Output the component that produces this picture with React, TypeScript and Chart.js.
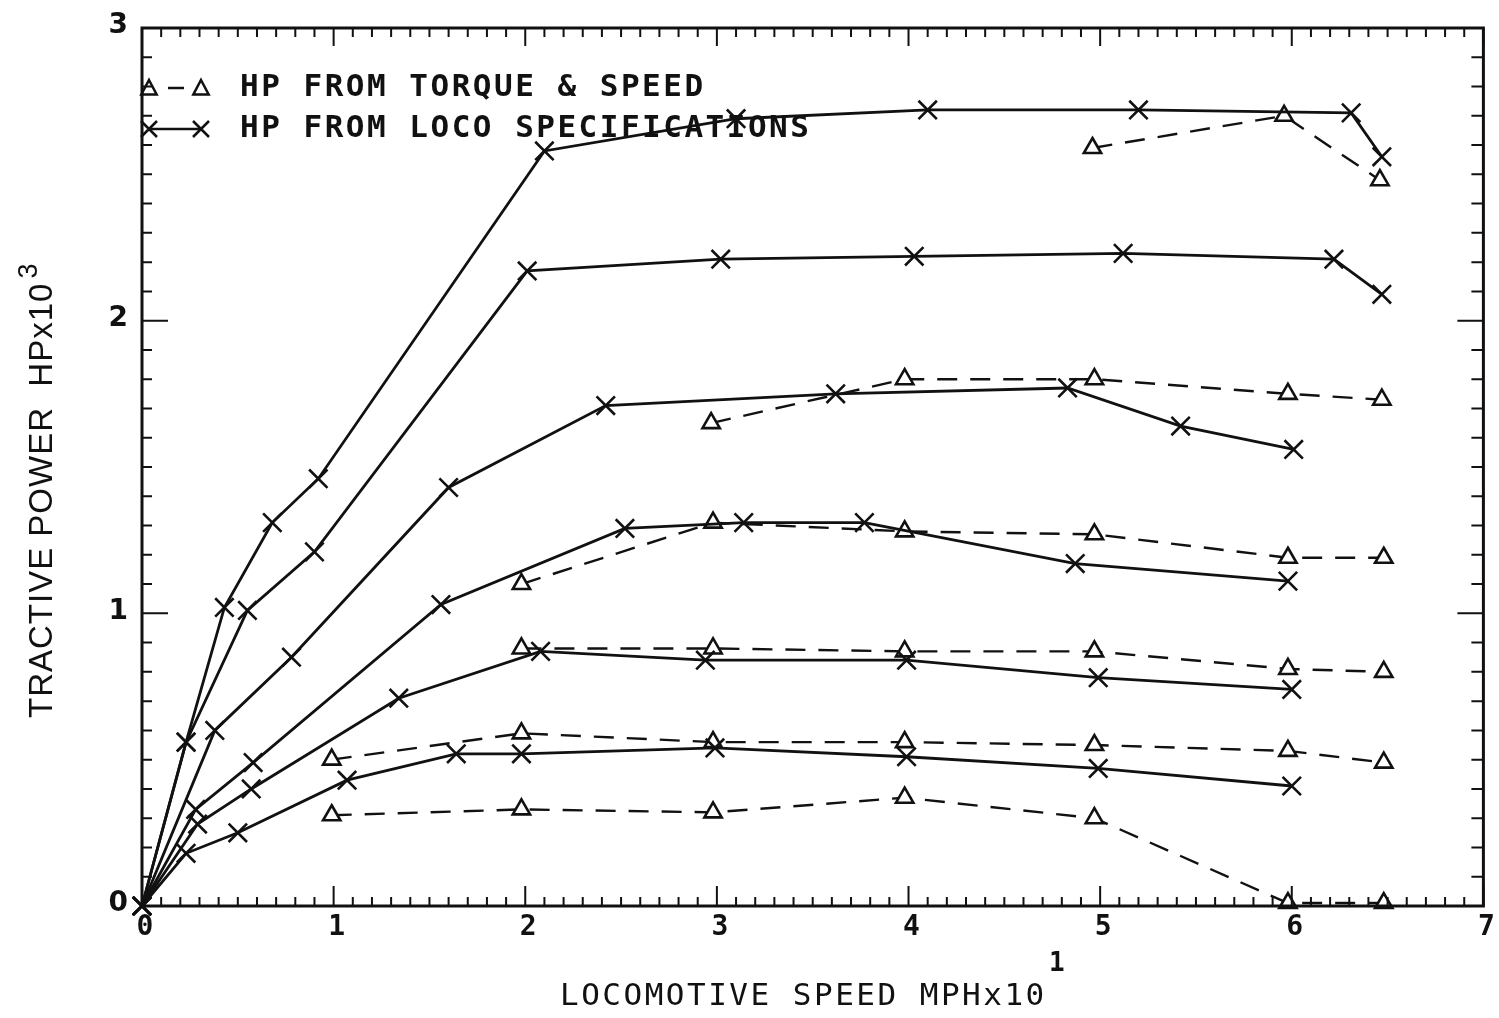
import React, { useEffect, useRef } from "react";
import { Chart, registerables } from "chart.js";

Chart.register(...registerables);

// ---------- axis ticks ----------
const X_TICKS = [0, 1, 2, 3, 4, 5, 6, 7];
const Y_TICKS = [0, 1, 2, 3];

// ---------- HP from loco specifications (solid, x markers) ----------
const spec1X = [0, 0.23, 0.43, 0.68, 0.92, 2.1, 3.1, 4.1, 5.2, 6.31, 6.47];
const spec1Y = [0, 0.56, 1.02, 1.31, 1.46, 2.58, 2.69, 2.72, 2.72, 2.71, 2.56];

const spec2X = [0, 0.23, 0.55, 0.9, 2.01, 3.02, 4.03, 5.12, 6.22, 6.47];
const spec2Y = [0, 0.56, 1.01, 1.21, 2.17, 2.21, 2.22, 2.23, 2.21, 2.09];

const spec3X = [0, 0.38, 0.78, 1.6, 2.42, 3.62, 4.83, 5.42, 6.01];
const spec3Y = [0, 0.6, 0.85, 1.43, 1.71, 1.75, 1.77, 1.64, 1.56];

const spec4X = [0, 0.28, 0.58, 1.56, 2.52, 3.14, 3.77, 4.87, 5.98];
const spec4Y = [0, 0.33, 0.49, 1.03, 1.29, 1.31, 1.31, 1.17, 1.11];

const spec5X = [0, 0.29, 0.57, 1.34, 2.08, 2.94, 3.99, 4.99, 6.0];
const spec5Y = [0, 0.28, 0.4, 0.71, 0.87, 0.84, 0.84, 0.78, 0.74];

const spec6X = [0, 0.23, 0.5, 1.07, 1.64, 1.98, 2.99, 3.99, 4.99, 6.0];
const spec6Y = [0, 0.18, 0.25, 0.43, 0.52, 0.52, 0.54, 0.51, 0.47, 0.41];

// ---------- HP from torque & speed (dashed, triangles) ----------
const torq1X = [4.96, 5.96, 6.46];
const torq1Y = [2.59, 2.7, 2.48];

const torq2X = [2.97, 3.98, 4.97, 5.98, 6.47];
const torq2Y = [1.65, 1.8, 1.8, 1.75, 1.73];

const torq3X = [1.98, 2.98, 3.98, 4.97, 5.98, 6.48];
const torq3Y = [1.1, 1.31, 1.28, 1.27, 1.19, 1.19];

const torq4X = [1.98, 2.98, 3.98, 4.97, 5.98, 6.48];
const torq4Y = [0.88, 0.88, 0.87, 0.87, 0.81, 0.8];

const torq5X = [0.99, 1.98, 2.98, 3.98, 4.97, 5.98, 6.48];
const torq5Y = [0.5, 0.59, 0.56, 0.56, 0.55, 0.53, 0.49];

const torq6X = [0.99, 1.98, 2.98, 3.98, 4.97, 5.98, 6.48];
const torq6Y = [0.31, 0.33, 0.32, 0.37, 0.3, 0.01, 0.01];

// ---------- texts ----------
const LEGEND_TORQUE = "HP FROM TORQUE & SPEED";
const LEGEND_SPEC = "HP FROM LOCO SPECIFICATIONS";
const X_TITLE = "LOCOMOTIVE SPEED MPHx10";
const X_TITLE_SUP = "1";
const Y_TITLE = "TRACTIVE POWER  HPx10";
const Y_TITLE_SUP = "3";

const INK = "#111";

const toPts = (xs: number[], ys: number[]) => xs.map((x, i) => ({ x, y: ys[i] }));

const specSeries = [
  [spec1X, spec1Y],
  [spec2X, spec2Y],
  [spec3X, spec3Y],
  [spec4X, spec4Y],
  [spec5X, spec5Y],
  [spec6X, spec6Y],
];
const torqSeries = [
  [torq1X, torq1Y],
  [torq2X, torq2Y],
  [torq3X, torq3Y],
  [torq4X, torq4Y],
  [torq5X, torq5Y],
  [torq6X, torq6Y],
];

function drawCross(ctx: CanvasRenderingContext2D, x: number, y: number, r: number) {
  ctx.beginPath();
  ctx.moveTo(x - r, y - r);
  ctx.lineTo(x + r, y + r);
  ctx.moveTo(x - r, y + r);
  ctx.lineTo(x + r, y - r);
  ctx.stroke();
}
function drawTri(ctx: CanvasRenderingContext2D, x: number, y: number, r: number) {
  ctx.beginPath();
  ctx.moveTo(x, y - r);
  ctx.lineTo(x + r * 0.85, y + r * 0.6);
  ctx.lineTo(x - r * 0.85, y + r * 0.6);
  ctx.closePath();
  ctx.stroke();
}

const framePlugin = {
  id: "frame",
  afterDraw(chart: any) {
    const ctx: CanvasRenderingContext2D = chart.ctx;
    const xs = chart.scales.x;
    const ys = chart.scales.y;
    const { left, right, top, bottom } = chart.chartArea;
    ctx.save();
    ctx.strokeStyle = INK;
    ctx.fillStyle = INK;
    ctx.lineCap = "butt";

    // frame
    ctx.lineWidth = 3;
    ctx.strokeRect(left, top, right - left, bottom - top);

    // ticks on all four sides
    ctx.lineWidth = 2;
    for (let i = 0; i <= 70; i++) {
      const v = i / 10;
      const px = xs.getPixelForValue(v);
      const major = i % 10 === 0;
      const lb = major ? 20 : 9;
      const lt = major ? 18 : 9;
      ctx.beginPath();
      ctx.moveTo(px, bottom);
      ctx.lineTo(px, bottom - lb);
      ctx.moveTo(px, top);
      ctx.lineTo(px, top + lt);
      ctx.stroke();
    }
    for (let i = 0; i <= 30; i++) {
      const v = i / 10;
      const py = ys.getPixelForValue(v);
      const major = i % 10 === 0;
      const ll = major ? 26 : 10;
      const lr = major ? 26 : 12;
      ctx.beginPath();
      ctx.moveTo(left, py);
      ctx.lineTo(left + ll, py);
      ctx.moveTo(right, py);
      ctx.lineTo(right - lr, py);
      ctx.stroke();
    }

    // x tick labels
    ctx.font = "bold 28px 'DejaVu Sans Mono'";
    ctx.textAlign = "center";
    ctx.textBaseline = "middle";
    X_TICKS.forEach((t) => {
      ctx.fillText(String(t), xs.getPixelForValue(t) + 3, bottom + 22);
    });
    // y tick labels
    ctx.font = "bold 28px 'DejaVu Sans'";
    ctx.textAlign = "right";
    Y_TICKS.forEach((t) => {
      ctx.fillText(String(t), left - 14, ys.getPixelForValue(t) - 2);
    });

    // x title
    ctx.font = "31px 'DejaVu Sans Mono'";
    (ctx as any).letterSpacing = "2.5px";
    ctx.textAlign = "left";
    ctx.fillText(X_TITLE, 560, 997);
    (ctx as any).letterSpacing = "0px";
    ctx.font = "bold 26px 'DejaVu Sans Mono'";
    ctx.fillText(X_TITLE_SUP, 1049, 964);

    // y title
    ctx.save();
    ctx.translate(43, 718);
    ctx.rotate(-Math.PI / 2);
    ctx.font = "33px 'Liberation Sans'";
    (ctx as any).letterSpacing = "1px";
    ctx.textAlign = "left";
    ctx.textBaseline = "middle";
    ctx.fillText(Y_TITLE, 0, 0);
    const w = ctx.measureText(Y_TITLE).width;
    (ctx as any).letterSpacing = "0px";
    ctx.font = "27px 'Liberation Sans'";
    ctx.fillText(Y_TITLE_SUP, w + 4, -13);
    ctx.restore();

    // legend
    ctx.lineWidth = 2.5;
    const ly1 = 88;
    const ly2 = 129;
    drawTri(ctx, 149, ly1 + 1, 9);
    drawTri(ctx, 201, ly1 + 1, 9);
    ctx.beginPath();
    ctx.moveTo(168, ly1);
    ctx.lineTo(184, ly1);
    ctx.stroke();
    drawCross(ctx, 149, ly2, 8);
    drawCross(ctx, 201, ly2, 8);
    ctx.beginPath();
    ctx.moveTo(149, ly2);
    ctx.lineTo(201, ly2);
    ctx.stroke();

    ctx.font = "bold 31px 'DejaVu Sans Mono'";
    (ctx as any).letterSpacing = "2.5px";
    ctx.textAlign = "left";
    ctx.textBaseline = "middle";
    ctx.fillText(LEGEND_TORQUE, 240, ly1);
    ctx.fillText(LEGEND_SPEC, 240, ly2);
    (ctx as any).letterSpacing = "0px";

    ctx.restore();
  },
};

export default function App() {
  const ref = useRef<HTMLCanvasElement | null>(null);

  useEffect(() => {
    if (!ref.current) return;
    const datasets: any[] = [];
    specSeries.forEach(([xs, ys], i) => {
      datasets.push({
        label: "spec" + (i + 1),
        data: toPts(xs, ys),
        showLine: true,
        borderColor: INK,
        borderWidth: 2.8,
        pointStyle: "crossRot",
        pointRadius: 13,
        pointBorderWidth: 2.6,
        pointBorderColor: INK,
        pointBackgroundColor: INK,
        tension: 0,
        clip: false,
      });
    });
    torqSeries.forEach(([xs, ys], i) => {
      datasets.push({
        label: "torq" + (i + 1),
        data: toPts(xs, ys),
        showLine: true,
        borderColor: INK,
        borderWidth: 2.4,
        borderDash: [20, 13],
        pointStyle: "triangle",
        pointRadius: 10,
        pointBorderWidth: 2.6,
        pointBorderColor: INK,
        pointBackgroundColor: "#fff",
        tension: 0,
        clip: false,
      });
    });

    const chart = new Chart(ref.current, {
      type: "scatter",
      data: { datasets },
      options: {
        animation: false,
        responsive: false,
        devicePixelRatio: 1,
        layout: { padding: { left: 142, right: 15, top: 28, bottom: 112 } },
        plugins: { legend: { display: false }, tooltip: { enabled: false } },
        scales: {
          x: { type: "linear", min: 0, max: 7, display: false },
          y: { type: "linear", min: 0, max: 3, display: false },
        },
      },
      plugins: [framePlugin],
    });
    return () => chart.destroy();
  }, []);

  return (
    <div style={{ position: "fixed", left: 0, top: 0, width: 1499, height: 1018, background: "#fff" }}>
      <canvas ref={ref} width={1499} height={1018} style={{ width: 1499, height: 1018, display: "block" }} />
    </div>
  );
}
